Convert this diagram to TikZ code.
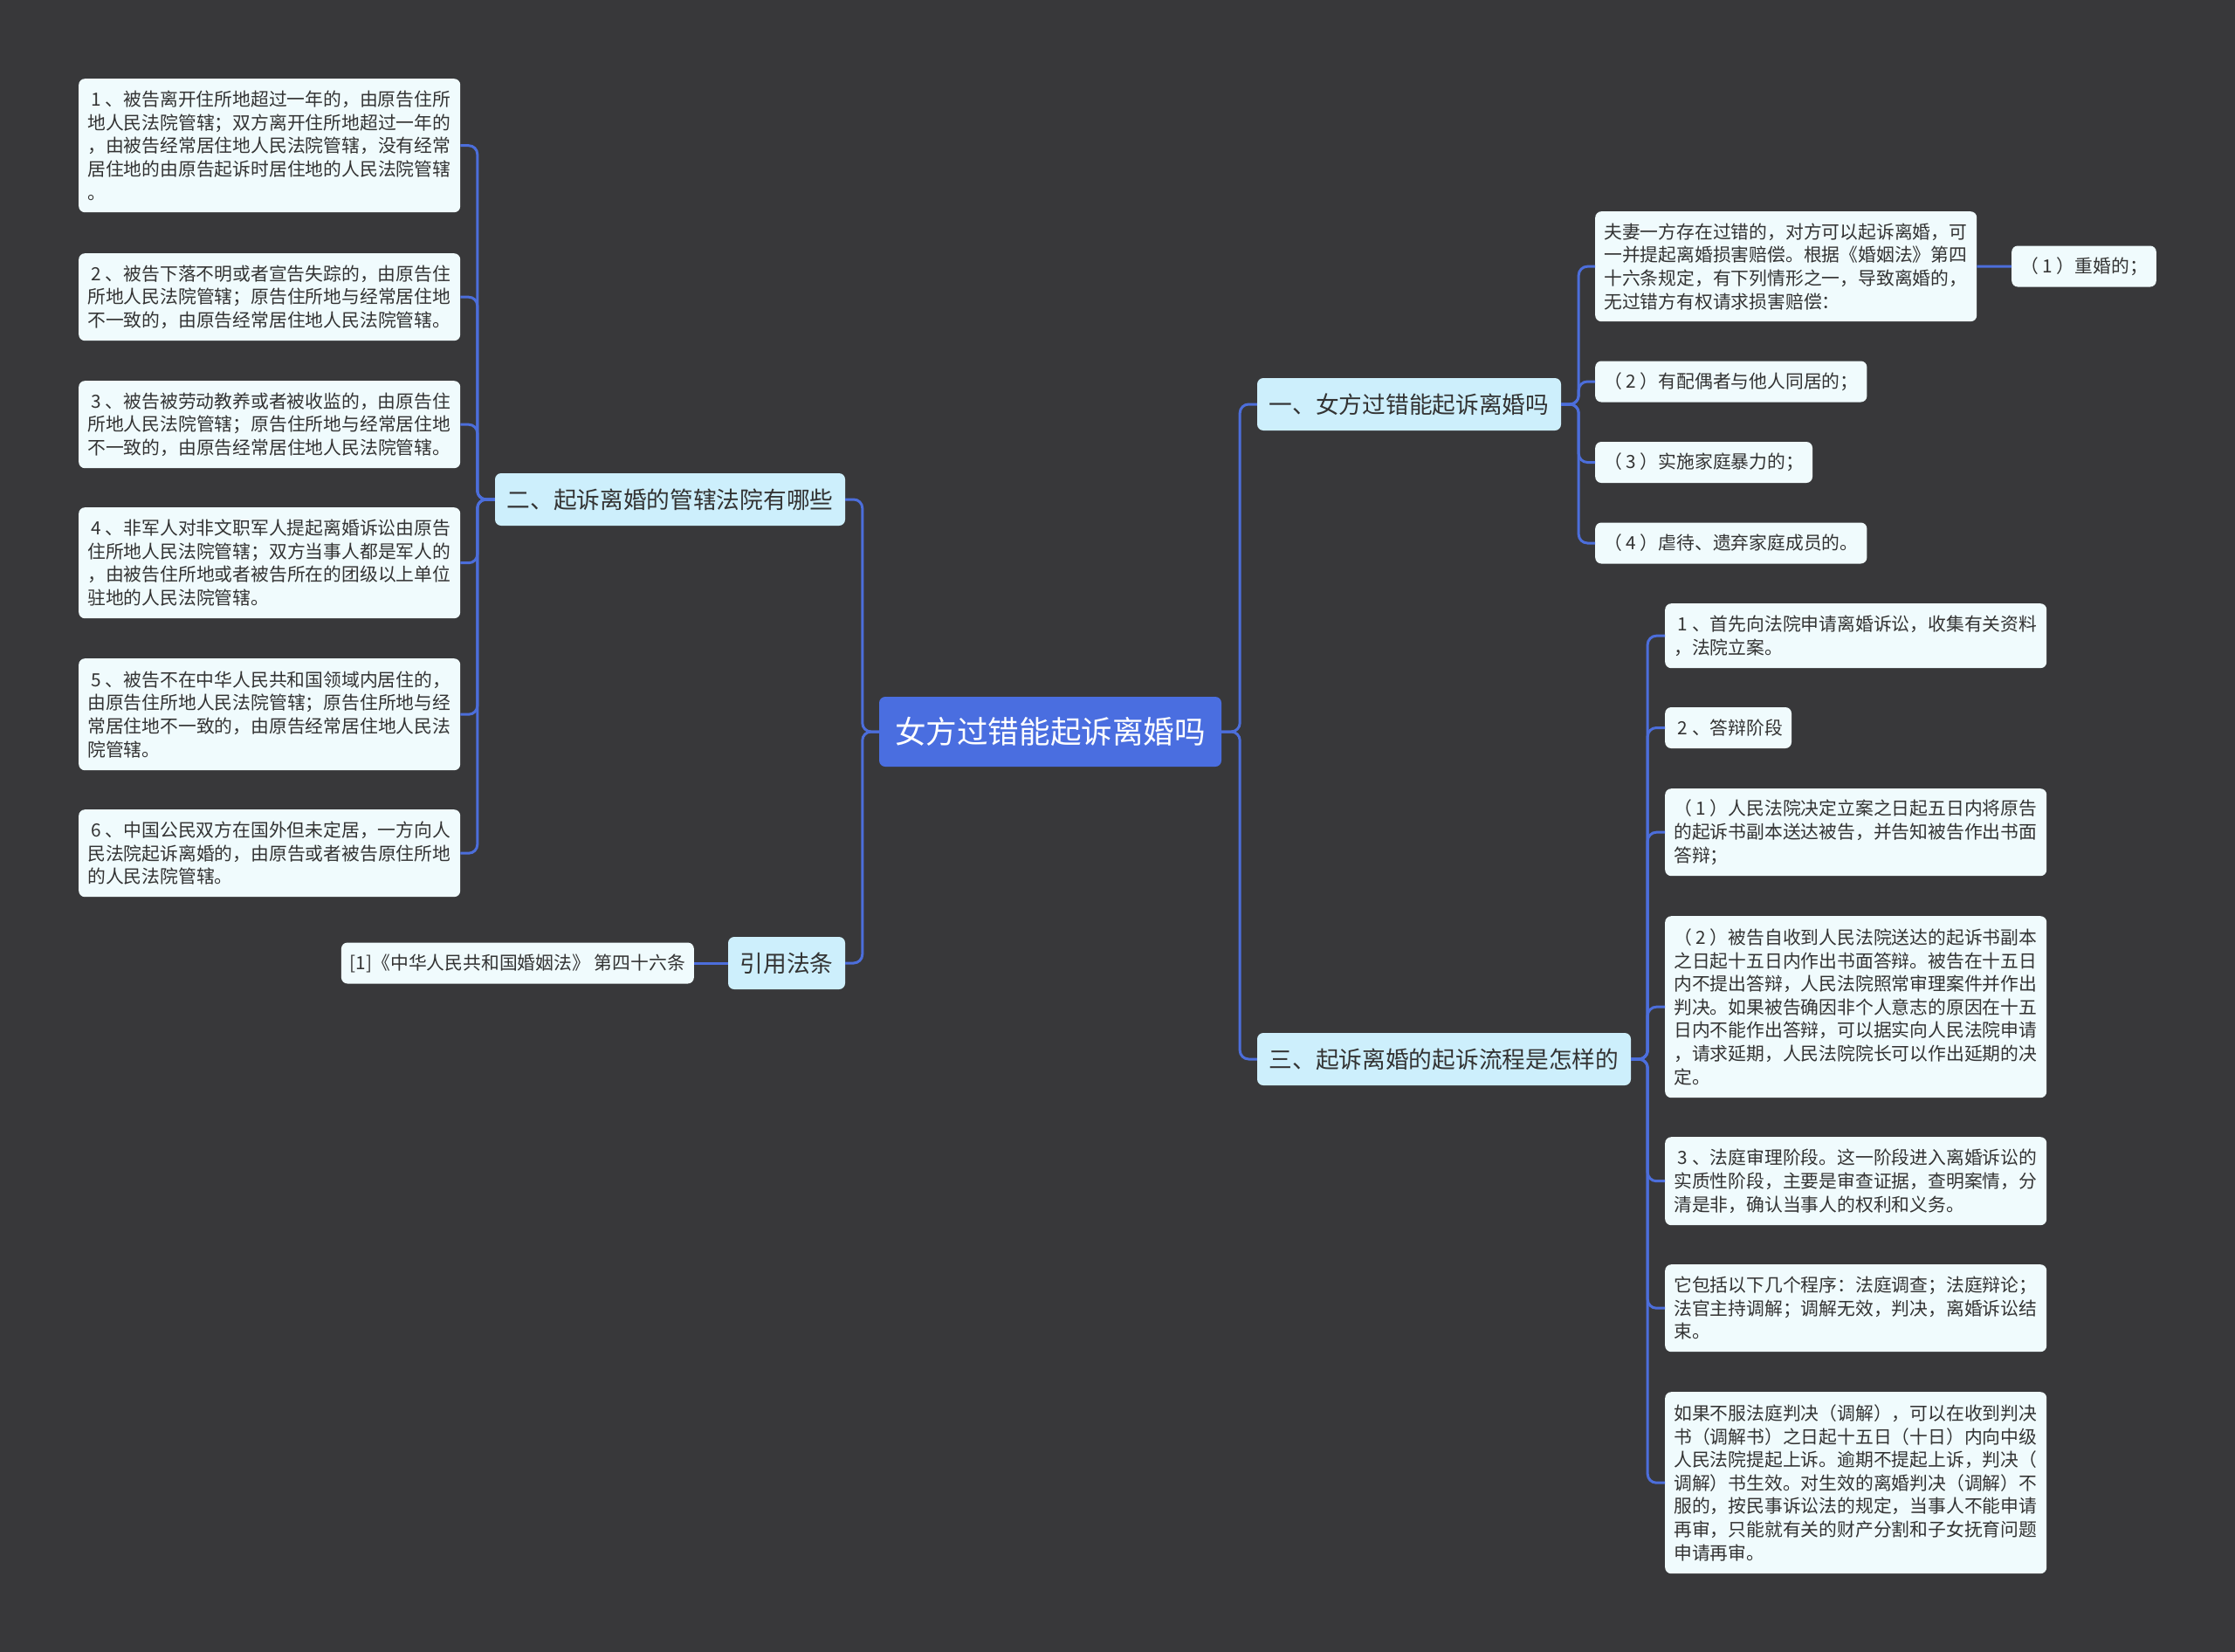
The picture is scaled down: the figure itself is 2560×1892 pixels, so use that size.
\documentclass[tikz,border=0pt]{standalone}
\usepackage{fontspec}
\setmainfont{Noto Sans CJK SC}
\definecolor{bgc}{HTML}{38383A}
\definecolor{linec}{HTML}{4C6EDB}
\definecolor{rootc}{HTML}{4A6EE0}
\definecolor{branchc}{HTML}{CDEFFC}
\definecolor{leafc}{HTML}{F0FBFD}
\definecolor{txt}{HTML}{333333}
\newcommand\dg[1]{\makebox[1em]{#1}}
\begin{document}
\begin{tikzpicture}[x=1pt,y=-1pt,
  conn/.style={draw=linec, line width=3pt, rounded corners=10pt},
  rootbox/.style={fill=rootc, rounded corners=7pt, text=white, font=\fontsize{35.6pt}{40pt}\selectfont, minimum width=392pt, minimum height=80pt, inner sep=0pt},
  branchbox/.style={fill=branchc, rounded corners=7pt, text=txt, font=\fontsize{26.7pt}{30pt}\selectfont, minimum height=60pt, inner sep=0pt},
  leafbox/.style={fill=leafc, rounded corners=7pt, text=txt, font=\fontsize{20.8pt}{26.6pt}\selectfont, inner xsep=10pt, inner ysep=3pt, align=left, anchor=north west},
  wide/.style={text width=417pt},
]
\useasboundingbox (0,0) rectangle (2560,1892);
\fill[bgc] (0,0) rectangle (2560,1892);

% root
\node[rootbox] (root) at (1203,838) {女方过错能起诉离婚吗};

% branches
\node[branchbox, minimum width=348pt] (b1) at (1614,463) {一、女方过错能起诉离婚吗};
\node[branchbox, minimum width=401pt] (b2) at (767.5,572) {二、起诉离婚的管辖法院有哪些};
\node[branchbox, minimum width=428pt] (b3) at (1654,1213) {三、起诉离婚的起诉流程是怎样的};
\node[branchbox, minimum width=134pt] (b4) at (901,1103) {引用法条};

% left leaves (branch 2)
\node[leafbox, wide, minimum height=153pt] (l1) at (90,90) {\dg{1}、被告离开住所地超过一年的，由原告住所\\地人民法院管辖；双方离开住所地超过一年的\\，由被告经常居住地人民法院管辖，没有经常\\居住地的由原告起诉时居住地的人民法院管辖\\。};
\node[leafbox, wide, minimum height=100pt] (l2) at (90,290) {\dg{2}、被告下落不明或者宣告失踪的，由原告住\\所地人民法院管辖；原告住所地与经常居住地\\不一致的，由原告经常居住地人民法院管辖。};
\node[leafbox, wide, minimum height=100pt] (l3) at (90,436) {\dg{3}、被告被劳动教养或者被收监的，由原告住\\所地人民法院管辖；原告住所地与经常居住地\\不一致的，由原告经常居住地人民法院管辖。};
\node[leafbox, wide, minimum height=127pt] (l4) at (90,581) {\dg{4}、非军人对非文职军人提起离婚诉讼由原告\\住所地人民法院管辖；双方当事人都是军人的\\，由被告住所地或者被告所在的团级以上单位\\驻地的人民法院管辖。};
\node[leafbox, wide, minimum height=128pt] (l5) at (90,754) {\dg{5}、被告不在中华人民共和国领域内居住的，\\由原告住所地人民法院管辖；原告住所地与经\\常居住地不一致的，由原告经常居住地人民法\\院管辖。};
\node[leafbox, wide, minimum height=100pt] (l6) at (90,927) {\dg{6}、中国公民双方在国外但未定居，一方向人\\民法院起诉离婚的，由原告或者被告原住所地\\的人民法院管辖。};

% citation
\node[leafbox, anchor=east, minimum height=47pt] (c1) at (795,1103) {[1]《中华人民共和国婚姻法》 第四十六条};

% right leaves (branch 1)
\node[leafbox, wide, minimum height=126pt] (a1) at (1827,242) {夫妻一方存在过错的，对方可以起诉离婚，可\\一并提起离婚损害赔偿。根据《婚姻法》第四\\十六条规定，有下列情形之一，导致离婚的，\\无过错方有权请求损害赔偿：};
\node[leafbox, anchor=west, minimum height=47pt] (a1a) at (2304,305) {（\dg{1}）重婚的；};
\node[leafbox, anchor=west, minimum height=47pt] (a2) at (1827,437) {（\dg{2}）有配偶者与他人同居的；};
\node[leafbox, anchor=west, minimum height=47pt] (a3) at (1827,529.5) {（\dg{3}）实施家庭暴力的；};
\node[leafbox, anchor=west, minimum height=47pt] (a4) at (1827,622) {（\dg{4}）虐待、遗弃家庭成员的。};

% right leaves (branch 3)
\node[leafbox, wide, minimum height=74pt] (r1) at (1907,691) {\dg{1}、首先向法院申请离婚诉讼，收集有关资料\\，法院立案。};
\node[leafbox, anchor=west, minimum height=47pt] (r2) at (1907,833.5) {\dg{2}、答辩阶段};
\node[leafbox, wide, minimum height=100pt] (r3) at (1907,903) {（\dg{1}）人民法院决定立案之日起五日内将原告\\的起诉书副本送达被告，并告知被告作出书面\\答辩；};
\node[leafbox, wide, minimum height=208pt] (r4) at (1907,1049) {（\dg{2}）被告自收到人民法院送达的起诉书副本\\之日起十五日内作出书面答辩。被告在十五日\\内不提出答辩，人民法院照常审理案件并作出\\判决。如果被告确因非个人意志的原因在十五\\日内不能作出答辩，可以据实向人民法院申请\\，请求延期，人民法院院长可以作出延期的决\\定。};
\node[leafbox, wide, minimum height=101pt] (r5) at (1907,1302) {\dg{3}、法庭审理阶段。这一阶段进入离婚诉讼的\\实质性阶段，主要是审查证据，查明案情，分\\清是非，确认当事人的权利和义务。};
\node[leafbox, wide, minimum height=100pt] (r6) at (1907,1448) {它包括以下几个程序：法庭调查；法庭辩论；\\法官主持调解；调解无效，判决，离婚诉讼结\\束。};
\node[leafbox, wide, minimum height=208pt] (r7) at (1907,1594) {如果不服法庭判决（调解），可以在收到判决\\书（调解书）之日起十五日（十日）内向中级\\人民法院提起上诉。逾期不提起上诉，判决（\\调解）书生效。对生效的离婚判决（调解）不\\服的，按民事诉讼法的规定，当事人不能申请\\再审，只能就有关的财产分割和子女抚育问题\\申请再审。};

% connectors: root to branches
\draw[conn] (root.east) -- ++(21,0) |- (b1.west);
\draw[conn] (root.east) -- ++(21,0) |- (b3.west);
\draw[conn] (root.west) -- ++(-19,0) |- (b2.east);
\draw[conn] (root.west) -- ++(-19,0) |- (b4.east);

% branch 2 to left leaves
\foreach \n in {l1,l2,l3,l4,l5,l6}
  \draw[conn] (b2.west) -- ++(-20,0) |- (\n.east);

% citation
\draw[conn] (b4.west) -- (c1.east);

% branch 1 to right leaves
\foreach \n in {a1,a2,a3,a4}
  \draw[conn] (b1.east) -- ++(20,0) |- (\n.west);
\draw[conn] (a1.east) -- (a1a.west);

% branch 3 to right leaves
\foreach \n in {r1,r2,r3,r4,r5,r6,r7}
  \draw[conn] (b3.east) -- ++(19,0) |- (\n.west);
\end{tikzpicture}
\end{document}
